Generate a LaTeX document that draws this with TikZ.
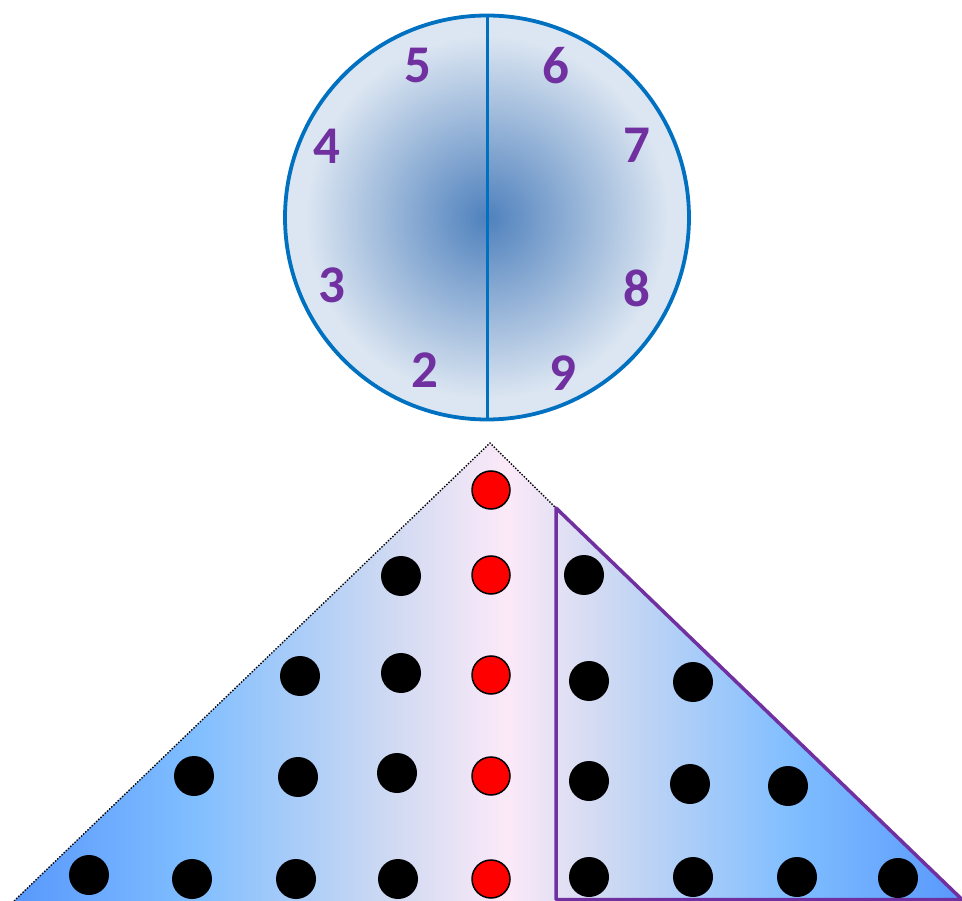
\documentclass[tikz,border=0pt]{standalone}
\usepackage{fontspec}
\newfontfamily\digitfont{Carlito}[UprightFont=*-Bold, BoldFont=*-Bold, Extension=.ttf]

\definecolor{clockblue}{RGB}{0,112,192}
\definecolor{clockdark}{RGB}{79,129,189}
\definecolor{clocklight}{RGB}{220,230,242}
\definecolor{digitpurple}{RGB}{112,48,160}
\definecolor{rampblue}{RGB}{88,152,252}
\definecolor{rampsky}{RGB}{128,190,255}
\definecolor{ramppale}{RGB}{208,218,242}
\definecolor{ramppink}{RGB}{252,233,248}

\pgfdeclareradialshading{clockglow}{\pgfpoint{0bp}{0bp}}{color(0bp)=(clockdark); color(22.5bp)=(clocklight); color(25bp)=(clocklight); color(50bp)=(clocklight)}
\pgfdeclarehorizontalshading{rampfade}{100bp}{color(0bp)=(rampblue); color(25bp)=(rampblue); color(34.5bp)=(rampsky); color(45bp)=(ramppale); color(51bp)=(ramppink); color(56bp)=(ramppale); color(66bp)=(rampsky); color(75bp)=(rampblue); color(100bp)=(rampblue)}

\begin{document}
\begin{tikzpicture}[x=1pt, y=-1pt,
    digit/.style={text=digitpurple, font=\digitfont\fontsize{53}{53}\selectfont, inner sep=0pt},
    dot/.style={circle, fill=black, minimum size=40pt, inner sep=0pt},
    reddot/.style={circle, fill=red, draw=black, line width=1.5pt, minimum size=38pt, inner sep=0pt}]

    \useasboundingbox (0,0) rectangle (962,901);

    \node[circle, draw=clockblue, line width=3.8pt, shading=clockglow, minimum size=404pt, outer sep=0pt, inner sep=0pt] (clock) at (487,217.5) {};
    \draw[clockblue, line width=3pt] (clock.north) -- (clock.south);

    \node[digit] (d5) at (418,66) {5};
    \node[digit] (d6) at (556,66) {6};
    \node[digit] (d4) at (327,146) {4};
    \node[digit] (d7) at (637,145) {7};
    \node[digit] (d3) at (332,285) {3};
    \node[digit] (d8) at (637,288) {8};
    \node[digit] (d2) at (425,370) {2};
    \node[digit] (d9) at (563,373) {9};

    \coordinate (apex) at (490,443);
    \coordinate (baseL) at (14,901);
    \coordinate (baseR) at (962,901);
    \coordinate (kink) at (556,508);
    \coordinate (foot) at (556,899.5);
    \coordinate (corner) at (962,899.5);

    \shade[shading=rampfade] (apex) -- (baseL) -- (baseR) -- cycle;
    \draw[line width=1.4pt, dash pattern=on 1.4pt off 1.6pt] (baseL) -- (apex) -- (kink);
    \draw[digitpurple, line width=3.5pt, line join=round] (kink) -- (foot) -- (corner) -- cycle;

    \node[reddot] (r1) at (491,490) {};
    \node[reddot] (r2) at (491,575) {};
    \node[reddot] (r3) at (491,675) {};
    \node[reddot] (r4) at (491,776) {};
    \node[reddot] (r5) at (491,879) {};

    \node[dot] (a1) at (401,576) {};
    \node[dot] (b1) at (300,676) {};
    \node[dot] (b2) at (401,673) {};
    \node[dot] (c1) at (194,776) {};
    \node[dot] (c2) at (298,777) {};
    \node[dot] (c3) at (397,773) {};
    \node[dot] (e1) at (89,875) {};
    \node[dot] (e2) at (192,879) {};
    \node[dot] (e3) at (296,879) {};
    \node[dot] (e4) at (398,879) {};

    \node[dot] (p1) at (584,575) {};
    \node[dot] (q1) at (589,681) {};
    \node[dot] (q2) at (693,682) {};
    \node[dot] (s1) at (589,781) {};
    \node[dot] (s2) at (690,784) {};
    \node[dot] (s3) at (788,786) {};
    \node[dot] (t1) at (589,877) {};
    \node[dot] (t2) at (693,877) {};
    \node[dot] (t3) at (797,877) {};
    \node[dot] (t4) at (898,878) {};

\end{tikzpicture}
\end{document}
